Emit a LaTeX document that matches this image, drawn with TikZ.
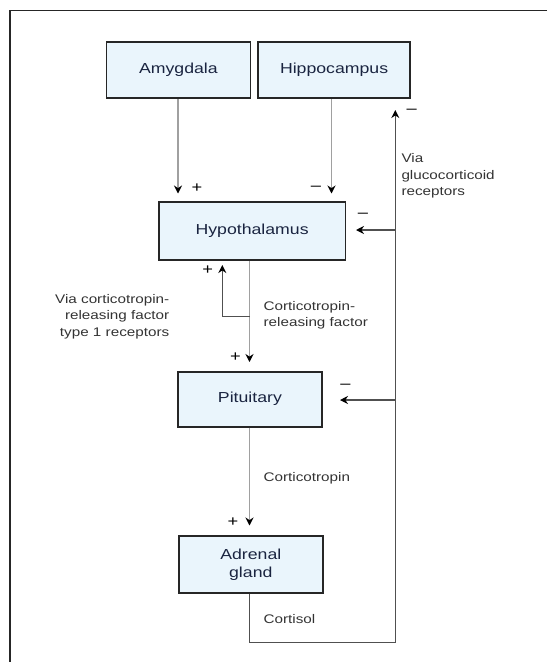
\documentclass[tikz,border=0pt]{standalone}
\usepackage{fontspec}
\setmainfont{Liberation Sans}
\newfontfamily\wfont[FakeStretch=1.22]{Liberation Sans}
\usetikzlibrary{arrows.meta}
\definecolor{boxfill}{HTML}{EAF5FC}
\definecolor{boxtext}{HTML}{1A2440}
\definecolor{linegray}{HTML}{A0A0A0}
\definecolor{fbgray}{HTML}{505050}
\tikzset{
  organ/.style={draw=black!85, line width=1.7pt, fill=boxfill, text=boxtext, font=\wfont\fontsize{14.5}{18}\selectfont, align=center, inner sep=0pt},
  flow/.style={draw=linegray, line width=1.3pt, -{Stealth[length=8pt,width=8pt,color=black]}},
  fb/.style={draw=fbgray, line width=1.3pt, -{Stealth[length=8pt,width=8pt,color=black]}},
  lbl/.style={font=\wfont\fontsize{12.5}{16.5}\selectfont, text=black!80, inner sep=0pt},
  sign/.style={font=\wfont\fontsize{15}{15}\selectfont, inner sep=0pt}
}
\begin{document}
\begin{tikzpicture}[x=1pt,y=-1pt]
\useasboundingbox (0,0) rectangle (547,662);
\draw[line width=1.6pt, black!85] (547,10.5) -- (10,10.5) -- (10,662);

\node[organ, minimum width=144pt, minimum height=56.6pt] (amy) at (178.4,70) {Amygdala};
\node[organ, minimum width=151.8pt, minimum height=56.6pt] (hip) at (334.1,70) {Hippocampus};
\node[organ, minimum width=186.6pt, minimum height=58.3pt] (hyp) at (252.1,230.9) {Hypothalamus};
\node[organ, minimum width=143.7pt, minimum height=55pt] (pit) at (249.9,399.2) {Pituitary};
\node[organ, minimum width=143.7pt, minimum height=56.7pt] (adr) at (250.8,564.3) {Adrenal\\gland};

\coordinate (amyE) at (178,193.5);
\coordinate (hipE) at (331.5,193.5);
\draw[flow] (amy.south -| amyE) -- (amyE);
\draw[flow] (hip.south -| hipE) -- (hipE);
\node[sign] (s1) at (197,188) {+};
\node[sign] (s2) at (316,188) {\textendash};

% hypothalamus -> pituitary
\coordinate (crfE) at (249.5,362);
\draw[flow] (hyp.south -| crfE) -- (crfE);
\node[sign] (s3) at (235.5,357) {+};
\coordinate (crfB) at (249.5,316.7);
\coordinate (crfL) at (222.3,316.7);
\coordinate (crfT) at (222.3,265);
\draw[fb] (crfB) -- (crfL) -- (crfT);
\node[sign] (s4) at (207.6,270) {+};

\node[lbl, anchor=east, align=right] (via1) at (169.5,316.7) {Via corticotropin-\\releasing factor\\type 1 receptors};
\node[lbl, anchor=west, align=left] (crfl) at (263.4,315.5) {Corticotropin-\\releasing factor};

% pituitary -> adrenal
\coordinate (actE) at (249.5,525.5);
\draw[flow] (pit.south -| actE) -- (actE);
\node[sign] (s5) at (233,522) {+};
\node[lbl, anchor=west] (actl) at (263.4,478.3) {Corticotropin};

% cortisol feedback
\coordinate (c1) at (249.5,642.7);
\coordinate (c2) at (395.3,642.7);
\coordinate (c3) at (395.3,110);
\coordinate (hypR) at (356,230);
\coordinate (pitR) at (340,400);
\draw[fb] (adr.south -| c1) -- (c1) -- (c2) -- (c3);
\draw[fb] (c2 |- hypR) -- (hypR);
\draw[fb] (c2 |- pitR) -- (pitR);
\node[sign] (s6) at (411.7,111.7) {\textendash};
\node[sign] (s7) at (363,215) {\textendash};
\node[sign] (s8) at (345.4,386.7) {\textendash};
\node[lbl, anchor=west] (cortl) at (263.4,619.3) {Cortisol};
\node[lbl, anchor=west, align=left] (gcl) at (401.3,176) {Via\\glucocorticoid\\receptors};
\end{tikzpicture}
\end{document}
